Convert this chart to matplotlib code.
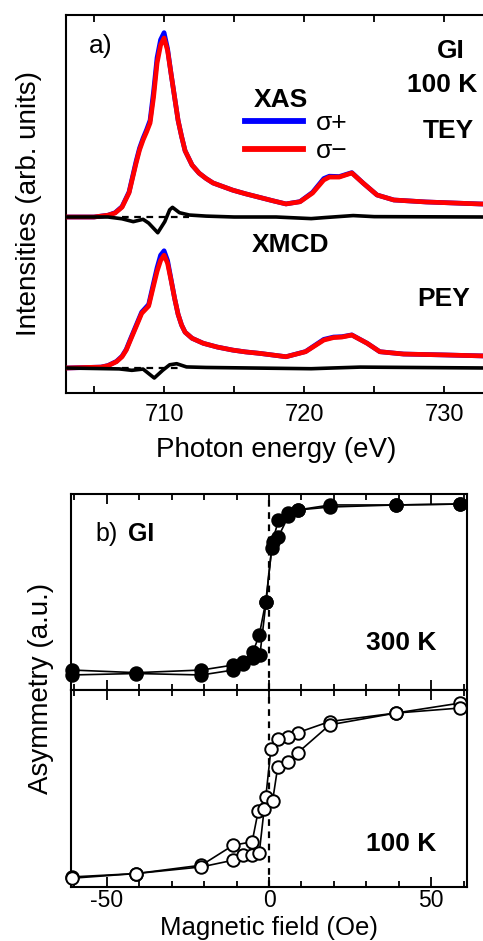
import matplotlib
matplotlib.use("Agg")
import matplotlib.pyplot as plt
from matplotlib.ticker import MultipleLocator, FixedLocator
from matplotlib.lines import Line2D

plt.rcParams['font.family'] = ['Liberation Sans', 'DejaVu Sans']
plt.rcParams['axes.unicode_minus'] = False

# ---------------- data: XAS / XMCD (panel a) ----------------
# TEY sigma- (red)
tey_e = [703.0, 705.0, 706.0, 706.5, 707.0, 707.5, 708.0, 708.25, 708.5, 708.75, 709.0, 709.25, 709.5,
         709.75, 710.0, 710.25, 710.5, 710.75, 711.0, 711.25, 711.5, 712.0, 712.5, 713.0, 713.5,
         714.2, 714.9, 715.8, 716.8, 717.8, 718.7, 719.7, 720.6, 721.4, 721.8, 722.5, 723.4,
         724.2, 725.2, 726.4, 728.7, 732.5, 733.0]
tey_minus = [0.0, 0.0, 0.01, 0.022, 0.055, 0.135, 0.30, 0.375, 0.43, 0.475, 0.525, 0.67, 0.86,
             0.96, 1.0, 0.93, 0.80, 0.67, 0.54, 0.45, 0.37, 0.29, 0.245, 0.215, 0.19,
             0.17, 0.15, 0.13, 0.11, 0.09, 0.073, 0.085, 0.134, 0.207, 0.223, 0.223, 0.246,
             0.19, 0.123, 0.095, 0.084, 0.073, 0.072]
tey_plus = [0.0, 0.0, 0.01, 0.024, 0.058, 0.14, 0.31, 0.385, 0.44, 0.487, 0.54, 0.70, 0.89,
            0.99, 1.03, 0.94, 0.80, 0.67, 0.54, 0.45, 0.37, 0.29, 0.245, 0.215, 0.19,
            0.17, 0.15, 0.13, 0.11, 0.09, 0.073, 0.086, 0.138, 0.215, 0.228, 0.226, 0.248,
            0.19, 0.123, 0.095, 0.084, 0.073, 0.072]
tey_xmcd_e = [703.0, 706.0, 707.0, 707.8, 708.5, 708.9, 709.55, 710.05, 710.4, 710.6, 711.1,
              711.8, 713.0, 715.0, 718.0, 720.5, 721.5, 723.5, 725.0, 733.0]
tey_xmcd = [0.0, 0.0, -0.01, -0.026, -0.013, -0.034, -0.088, -0.026, 0.04, 0.054, 0.024,
            0.011, 0.005, 0.0, 0.0, -0.009, -0.003, 0.008, 0.002, 0.0]

# PEY
pey_e = [703.0, 705.5, 706.0, 706.6, 707.0, 707.3, 707.6, 708.0, 708.4, 708.9, 709.25, 709.5,
         709.75, 710.0, 710.25, 710.5, 710.75, 711.0, 711.25, 711.5, 712.0, 712.8, 713.8, 714.9,
         715.8, 716.8, 717.8, 718.7, 720.1, 721.4, 722.1, 722.7, 723.4, 724.5, 725.4, 727.1,
         730.0, 733.0]
pey_minus = [0.0, 0.005, 0.013, 0.035, 0.063, 0.10, 0.156, 0.23, 0.305, 0.346, 0.46, 0.54,
             0.60, 0.63, 0.585, 0.49, 0.39, 0.30, 0.24, 0.20, 0.166, 0.138, 0.117, 0.10,
             0.09, 0.082, 0.072, 0.063, 0.091, 0.156, 0.17, 0.173, 0.184, 0.138, 0.091, 0.078,
             0.073, 0.067]
pey_plus = [0.0, 0.005, 0.014, 0.037, 0.066, 0.104, 0.162, 0.237, 0.312, 0.355, 0.475, 0.56,
            0.63, 0.655, 0.60, 0.495, 0.39, 0.30, 0.24, 0.20, 0.166, 0.138, 0.117, 0.10,
            0.09, 0.082, 0.072, 0.063, 0.092, 0.160, 0.173, 0.175, 0.185, 0.138, 0.091, 0.078,
            0.073, 0.067]
pey_xmcd_e = [703.0, 706.8, 707.7, 708.5, 709.3, 709.9, 710.4, 710.9, 711.6, 713.0, 720.5,
              722.0, 724.0, 733.0]
pey_xmcd = [0.0, -0.005, -0.013, -0.006, -0.056, -0.013, 0.018, 0.024, 0.006, 0.003, -0.004,
            0.0, 0.005, 0.0]

# ---------------- data: hysteresis loops (panel b) ----------------
h300_dec = [58.8, 39.0, 18.9, 8.8, 6.0, 2.9, 1.1, -1.0, -3.0, -4.9, -8.0, -11.0, -20.8, -40.9, -60.8]
a300_dec = [1.032, 1.021, 1.021, 0.962, 0.923, 0.844, 0.589, -0.117, -0.509, -0.705, -0.823,
            -0.862, -0.921, -0.952, -0.921]
h300_inc = [-60.8, -40.9, -20.8, -11.0, -8.0, -5.0, -2.8, -0.9, 0.8, 2.9, 6.0, 8.8, 18.9, 39.0, 58.8]
a300_inc = [-0.979, -0.962, -0.979, -0.921, -0.85, -0.779, -0.744, -0.117, 0.511, 0.648, 0.891,
            0.962, 0.997, 1.021, 1.032]

h100_dec = [58.8, 39.0, 18.7, 8.9, 5.8, 2.7, 0.6, -1.0, -3.3, -5.2, -11.0, -20.8, -40.9, -60.8]
a100_dec = [1.002, 0.885, 0.786, 0.656, 0.609, 0.582, 0.465, -0.104, -0.261, -0.626, -0.665,
            -0.90, -0.998, -1.038]
h100_inc = [-60.8, -40.9, -20.8, -11.0, -8.0, -5.2, -3.0, -1.5, 1.1, 2.7, 5.8, 8.9, 18.7, 39.0, 58.8]
a100_inc = [-1.053, -0.998, -0.92, -0.841, -0.782, -0.782, -0.755, -0.245, -0.147, 0.256, 0.308,
            0.421, 0.747, 0.885, 0.944]

# ---------------- layout ----------------
W, H = 483, 941
fig = plt.figure(figsize=(W / 100, H / 100), dpi=100)


def fx(x):
    return x / W


def fy(y):
    return 1 - y / H


def rect(x0, y0, x1, y1):
    return [fx(x0), fy(y1), (x1 - x0) / W, (y1 - y0) / H]


TICK = 17
LAB = 20
BOLD = 19
LW_SP = 1.5
line_kw = dict(solid_capstyle='round', solid_joinstyle='round')

# ---- panel a ----
ax = fig.add_axes(rect(66, 15, 486.3, 393))
unit = 179.0
off_tey = (393 - 217) / unit
off_pey = (393 - 368) / unit
ax.set_xlim(703, 733)
ax.set_ylim(0, 378 / unit)

ax.plot(tey_e, [v + off_tey for v in tey_plus], color='#0000ff', lw=3.4, zorder=2, **line_kw)
ax.plot(tey_e, [v + off_tey for v in tey_minus], color='#ff0000', lw=3.4, zorder=3, **line_kw)
ax.plot(pey_e, [v + off_pey for v in pey_plus], color='#0000ff', lw=3.4, zorder=2, **line_kw)
ax.plot(pey_e, [v + off_pey for v in pey_minus], color='#ff0000', lw=3.4, zorder=3, **line_kw)
ax.hlines([off_tey], 707.0, 711.8, colors='black', linestyles=(0, (3, 2.5)), lw=1.6, zorder=4)
ax.hlines([off_pey], 707.0, 711.2, colors='black', linestyles=(0, (3, 2.5)), lw=1.6, zorder=4)
ax.plot(tey_xmcd_e, [v + off_tey for v in tey_xmcd], color='black', lw=2.6, zorder=5, **line_kw)
ax.plot(pey_xmcd_e, [v + off_pey for v in pey_xmcd], color='black', lw=2.6, zorder=5, **line_kw)

ax.xaxis.set_major_locator(FixedLocator([710, 720, 730]))
ax.xaxis.set_minor_locator(FixedLocator([705, 715, 725]))
ax.set_yticks([off_pey, off_tey])
ax.set_yticklabels([])
ax.tick_params(axis='x', which='both', direction='in', top=True, length=5, width=1.3,
               labelsize=TICK, pad=8)
ax.tick_params(axis='y', direction='in', length=3, width=1.2, color='#5a2030')
for s in ax.spines.values():
    s.set_linewidth(LW_SP)
ax.set_xlabel('Photon energy (eV)', fontsize=LAB, labelpad=8)

handles = [Line2D([], [], color='#0000ff', lw=4.2), Line2D([], [], color='#ff0000', lw=4.2)]
ax.legend(handles, ['σ+', 'σ−'], loc='upper left',
          bbox_to_anchor=(fx(245 - 66) / (420.3 / W), 1 - (111 - 15) / 378),
          frameon=False, fontsize=BOLD, handlelength=2.2, handletextpad=0.5, labelspacing=0.15,
          borderaxespad=0, borderpad=0)

fig.text(fx(89), fy(53.5), 'a)', fontsize=19, ha='left', va='baseline')
fig.text(fx(451), fy(58.3), 'GI', fontsize=BOLD, fontweight='bold', ha='center', va='baseline')
fig.text(fx(441.7), fy(91.7), '100 K', fontsize=BOLD, fontweight='bold', ha='center', va='baseline')
fig.text(fx(448.3), fy(138.3), 'TEY', fontsize=BOLD, fontweight='bold', ha='center', va='baseline')
fig.text(fx(253.3), fy(106.7), 'XAS', fontsize=BOLD, fontweight='bold', ha='left', va='baseline')
fig.text(fx(290.8), fy(251.7), 'XMCD', fontsize=BOLD, fontweight='bold', ha='center', va='baseline')
fig.text(fx(443.8), fy(306), 'PEY', fontsize=BOLD, fontweight='bold', ha='center', va='baseline')
fig.text(fx(29), fy(204), 'Intensities (arb. units)', fontsize=LAB, rotation=90, ha='center', va='center')

# ---- panel b ----
axu = fig.add_axes(rect(71, 493.5, 467, 690))
axl = fig.add_axes(rect(71, 690, 467, 887))
lim = 98.25 / 85
for a in (axu, axl):
    a.set_xlim(-61, 61)
    a.set_ylim(-lim, lim)
    a.axvline(0, color='black', lw=1.6, ls=(0, (3, 2.5)), zorder=1)
    a.xaxis.set_major_locator(MultipleLocator(50))
    a.xaxis.set_minor_locator(MultipleLocator(10))
    a.set_yticks([])
    a.tick_params(axis='x', which='major', direction='in', top=True, length=7, width=1.3,
                  labelsize=16.5, pad=1.5)
    a.tick_params(axis='x', which='minor', direction='in', top=True, length=4.5, width=1.3)
    for s in a.spines.values():
        s.set_linewidth(LW_SP)

axu.tick_params(axis='x', which='both', labelbottom=False)

mk = dict(marker='o', markersize=9, lw=1.2, color='black', markeredgewidth=1.4, clip_on=False)
axu.plot(h300_dec, a300_dec, markerfacecolor='black', zorder=3, **mk)
axu.plot(h300_inc, a300_inc, markerfacecolor='black', zorder=3, **mk)
axl.plot(h100_dec, a100_dec, markerfacecolor='white', zorder=3, **mk)
axl.plot(h100_inc, a100_inc, markerfacecolor='white', zorder=3, **mk)

fig.text(fx(269), fy(935.5), 'Magnetic field (Oe)', fontsize=18.5, ha='center', va='baseline')

fig.text(fx(95), fy(541), 'b)', fontsize=18, ha='left', va='baseline')
fig.text(fx(128.3), fy(541), 'GI', fontsize=18, fontweight='bold', ha='left', va='baseline')
fig.text(fx(400.8), fy(650), '300 K', fontsize=BOLD, fontweight='bold', ha='center', va='baseline')
fig.text(fx(400.8), fy(850.7), '100 K', fontsize=BOLD, fontweight='bold', ha='center', va='baseline')
fig.text(fx(41.5), fy(688), 'Asymmetry (a.u.)', fontsize=LAB, rotation=90, ha='center', va='center')

fig.savefig('out.png', dpi=100)
